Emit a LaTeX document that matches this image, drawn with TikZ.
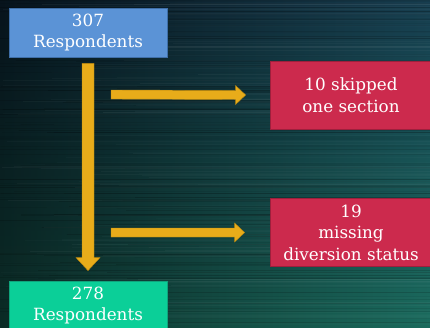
\documentclass[tikz,border=0pt]{standalone}
\usepackage{fontspec}
\setmainfont{DejaVu Serif}
\usetikzlibrary{calc,fadings}
\definecolor{bgA}{HTML}{07131C}
\definecolor{bgB}{HTML}{173E50}
\definecolor{bgC}{HTML}{0B2C26}
\definecolor{bgD}{HTML}{1B6C5E}
\definecolor{blueF}{HTML}{5B93D6}
\definecolor{blueD}{HTML}{3F6FA8}
\definecolor{redF}{HTML}{CC2A4D}
\definecolor{redD}{HTML}{9E1F3C}
\definecolor{greenF}{HTML}{0BCF98}
\definecolor{greenD}{HTML}{0FA47C}
\definecolor{goldF}{HTML}{E8AC1A}
\definecolor{goldD}{HTML}{B8860F}
\begin{document}
\begin{tikzpicture}[x=1pt,y=-1pt,
  box/.style={draw, line width=0.8pt, rectangle, minimum width=158pt, minimum height=49pt,
    inner sep=0pt, align=center, text=white, font=\fontsize{16.8}{21.5}\selectfont},
  bluebox/.style={box, fill=blueF, draw=blueD},
  redbox/.style={box, fill=redF, draw=redD, minimum width=162pt, minimum height=68pt},
  greenbox/.style={box, fill=greenF, draw=greenD},
  fat/.style={fill=goldF, draw=goldD, line width=0.4pt, line join=miter}]
\useasboundingbox (0,0) rectangle (430,327);
% background
\shade[left color=bgC, right color=bgD] (0,0) rectangle (430,327);
\shade[left color=bgA, right color=bgB, path fading=south] (0,0) rectangle (430,327);
\pgfmathsetseed{11}
\foreach \i in {1,...,260}{
  \pgfmathsetmacro{\yy}{rnd*327}
  \pgfmathsetmacro{\op}{0.04+rnd*0.12}
  \pgfmathsetmacro{\lw}{0.3+rnd*0.9}
  \pgfmathsetmacro{\xs}{rnd*200}
  \ifodd\i
    \draw[black, opacity=\op, line width=\lw pt] (\xs-60,\yy) -- (430,\yy);
  \else
    \draw[white, opacity=\op*0.25, line width=\lw pt] (\xs,\yy) -- (430,\yy);
  \fi
}
% nodes
\node[bluebox] (top) at (88,32.5) {307\\Respondents};
\node[redbox] (r1) at (351,95) {10 skipped\\one section};
\node[redbox] (r2) at (351,232.5) {19\\missing\\diversion status};
\node[greenbox] (bot) at (88,305.5) {278\\Respondents};
% vertical arrow
\coordinate (vs) at ($(top.south)+(0,6)$);
\coordinate (ve) at ($(bot.north)+(0,-10)$);
\draw[fat] ($(vs)+(-6,0)$) -- ($(vs)+(6,0)$) -- ($(ve)+(6,-13)$) -- ($(ve)+(12,-13)$)
  -- (ve) -- ($(ve)+(-12,-13)$) -- ($(ve)+(-6,-13)$) -- cycle;
% horizontal arrows
\coordinate (a1s) at (111,94.5);
\coordinate (a1e) at ($(r1.west)+(-24,0)$);
\draw[fat] ($(a1s)+(0,-4.5)$) -- ($(a1e)+(-10,-4.5)$) -- ($(a1e)+(-10,-9.5)$) -- (a1e)
  -- ($(a1e)+(-10,9.5)$) -- ($(a1e)+(-10,4.5)$) -- ($(a1s)+(0,4.5)$) -- cycle;
\coordinate (a2s) at (111,232.5);
\coordinate (a2e) at ($(r2.west)+(-25,0)$);
\draw[fat] ($(a2s)+(0,-4.5)$) -- ($(a2e)+(-10,-4.5)$) -- ($(a2e)+(-10,-9.5)$) -- (a2e)
  -- ($(a2e)+(-10,9.5)$) -- ($(a2e)+(-10,4.5)$) -- ($(a2s)+(0,4.5)$) -- cycle;
\end{tikzpicture}
\end{document}
